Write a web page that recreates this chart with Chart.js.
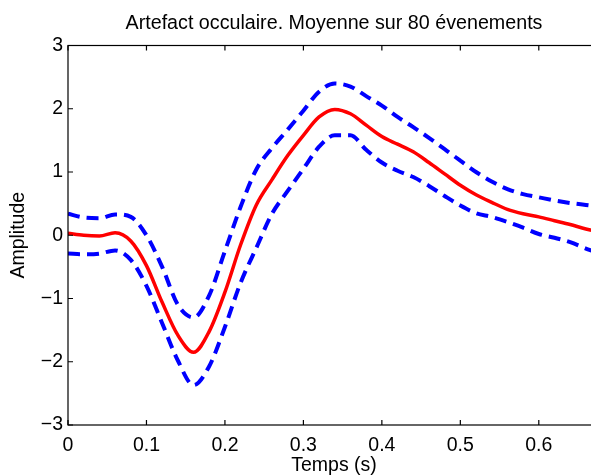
<!DOCTYPE html>
<html>
<head>
<meta charset="utf-8">
<script src="https://cdn.jsdelivr.net/npm/chart.js@4.4.1/dist/chart.umd.min.js"></script>
<style>
html,body{margin:0;padding:0;background:#fff;overflow:hidden;width:591px;height:475px;}
canvas{display:block;}
</style>
</head>
<body>
<canvas id="c" width="668" height="477"></canvas>
<script>
const titleText = "Artefact occulaire. Moyenne sur 80 évenements";
const xLabel = "Temps (s)";
const yLabel = "Amplitude";
const times = [0,0.02,0.04,0.06,0.08,0.10,0.12,0.14,0.16,0.18,0.20,0.22,0.24,0.26,0.28,0.30,0.32,0.34,0.36,0.38,0.40,0.42,0.44,0.46,0.48,0.50,0.52,0.54,0.56,0.58,0.60,0.62,0.64,0.66,0.68];
const meanVals = [0.03,0.00,-0.01,0.04,-0.09,-0.48,-1.06,-1.58,-1.85,-1.52,-0.90,-0.15,0.48,0.88,1.26,1.58,1.87,1.99,1.92,1.74,1.56,1.44,1.32,1.15,0.97,0.79,0.64,0.52,0.41,0.34,0.29,0.23,0.17,0.10,0.05];
const upperVals = [0.34,0.28,0.27,0.33,0.29,0.00,-0.50,-1.10,-1.30,-0.95,-0.25,0.45,1.04,1.38,1.67,1.97,2.27,2.40,2.35,2.20,2.05,1.87,1.71,1.54,1.36,1.18,1.00,0.85,0.73,0.65,0.60,0.55,0.51,0.48,0.45];
const lowerVals = [-0.29,-0.30,-0.29,-0.24,-0.39,-0.80,-1.39,-1.98,-2.37,-2.07,-1.45,-0.75,-0.20,0.34,0.70,1.05,1.40,1.58,1.58,1.35,1.15,1.02,0.92,0.78,0.62,0.47,0.35,0.29,0.21,0.12,0.02,-0.04,-0.11,-0.21,-0.30];
const xMin = 0, xMax = 0.678, xStep = 0.1;
const yMin = -3, yMax = 3, yStep = 1;

const FONT = "'Liberation Sans', Arial, Helvetica, sans-serif";
const pts = v => times.map((t,i)=>({x:t,y:v[i]}));

const boxPlugin = {
  id:'box',
  afterDraw(chart){
    const {ctx, chartArea:a, scales:{x,y}} = chart;
    ctx.save();
    ctx.strokeStyle='#000';
    ctx.lineWidth=1.2;
    ctx.strokeRect(a.left, a.top, a.right-a.left, a.bottom-a.top);
    const L=5;
    ctx.beginPath();
    x.ticks.forEach(t=>{const px=x.getPixelForValue(t.value);
      ctx.moveTo(px,a.bottom); ctx.lineTo(px,a.bottom-L);
      ctx.moveTo(px,a.top); ctx.lineTo(px,a.top+L);});
    y.ticks.forEach(t=>{const py=y.getPixelForValue(t.value);
      ctx.moveTo(a.left,py); ctx.lineTo(a.left+L,py);
      ctx.moveTo(a.right,py); ctx.lineTo(a.right-L,py);});
    ctx.stroke();
    ctx.restore();
  }
};

new Chart(document.getElementById('c'), {
  type:'line',
  data:{
    datasets:[
      {data:pts(upperVals), borderColor:'#0000ff', borderWidth:4, borderDash:[12,7], borderCapStyle:'butt', pointRadius:0, fill:false, cubicInterpolationMode:'monotone'},
      {data:pts(lowerVals), borderColor:'#0000ff', borderWidth:4, borderDash:[12,7], borderCapStyle:'butt', pointRadius:0, fill:false, cubicInterpolationMode:'monotone'},
      {data:pts(meanVals), borderColor:'#ff0000', borderWidth:3.5, pointRadius:0, fill:false, cubicInterpolationMode:'monotone'}
    ]
  },
  options:{
    responsive:false,
    animation:false,
    devicePixelRatio:1,
    layout:{padding:{left:0,right:68,top:0,bottom:0}},
    plugins:{
      legend:{display:false},
      tooltip:{enabled:false},
      title:{display:false}
    },
    scales:{
      x:{type:'linear', min:xMin, max:xMax,
        afterBuildTicks:s=>{s.ticks=s.ticks.filter(t=>t.value<=0.65);},
        afterFit:s=>{s.height=52;},
        ticks:{stepSize:xStep, includeBounds:false, color:'#000', padding:9, maxRotation:0, autoSkip:false,
          font:{family:FONT,size:19.5},
          callback:v=>String(Number(v.toFixed(1))).replace('-','\u2212')},
        grid:{display:false, drawTicks:false},
        border:{display:false},
        title:{display:true, text:xLabel, color:'#000', font:{family:FONT,size:19.5}, padding:{top:0,bottom:0}}
      },
      xTop:{type:'linear', position:'top', min:xMin, max:xMax,
        afterFit:s=>{s.height=45.5;},
        ticks:{display:false},
        grid:{display:false, drawTicks:false},
        border:{display:false},
        title:{display:true, text:titleText, color:'#000', font:{family:FONT,size:19.7}, padding:{top:11.7,bottom:0}}
      },
      y:{type:'linear', min:yMin, max:yMax,
        afterFit:s=>{s.width=68;},
        ticks:{stepSize:yStep, color:'#000', padding:5,
          font:{family:FONT,size:19.5},
          callback:v=>String(v).replace('-','\u2212')},
        grid:{display:false, drawTicks:false},
        border:{display:false},
        title:{display:true, text:yLabel, color:'#000', font:{family:FONT,size:19.5}, padding:{top:7,bottom:0}}
      }
    }
  },
  plugins:[boxPlugin]
});
</script>
</body>
</html>
